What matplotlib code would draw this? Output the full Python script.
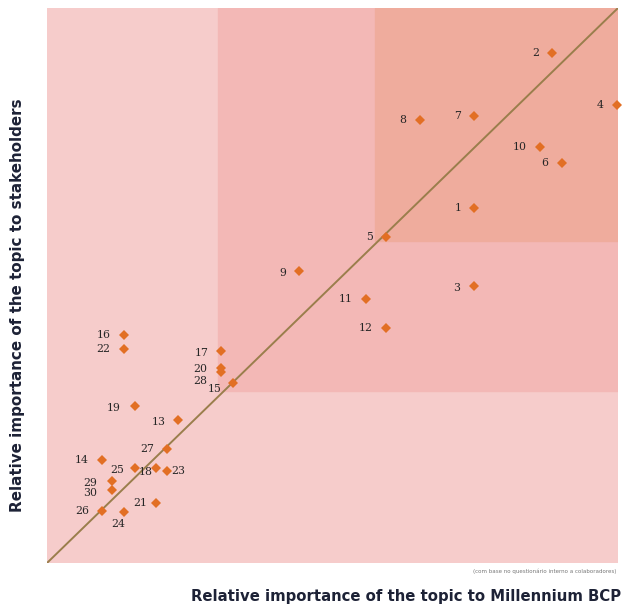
import matplotlib
matplotlib.use("Agg")
from matplotlib import pyplot as plt
from matplotlib.patches import Rectangle

# topic number, importance to Millennium BCP (x), importance to stakeholders (y)
topics = list(range(1, 31))
bcp_importance = [7.48, 8.85, 7.48, 9.98, 5.94, 9.02, 7.48, 6.54, 4.42, 8.63,
                  5.59, 5.94, 2.30, 0.96, 3.26, 1.34, 3.05, 1.91, 1.54, 3.05,
                  1.91, 1.34, 2.10, 1.34, 1.54, 0.96, 2.10, 3.05, 1.13, 1.13]
stakeholder_importance = [6.39, 9.19, 4.99, 8.25, 5.88, 7.21, 8.06, 7.98, 5.26, 7.50,
                          4.76, 4.23, 2.58, 1.86, 3.25, 4.11, 3.82, 1.71, 2.83, 3.51,
                          1.09, 3.85, 1.66, 0.91, 1.71, 0.93, 2.05, 3.45, 1.48, 1.32]

# thresholds of the materiality zones
mid_x, mid_y = 3.0, 3.1
high_x, high_y = 5.74, 5.8

# label offsets in pixels (dx, dy), default is left of the marker
label_offsets = {1: (-16, 0), 3: (-17, -2), 8: (-18, 0), 9: (-17, -2),
                 10: (-20, 0), 11: (-20, 0), 12: (-20, 0), 13: (-20, -2),
                 14: (-20, 0), 15: (-18, -6), 16: (-20, 0), 17: (-19, -2),
                 18: (-10, -4), 19: (-21, -2), 20: (-21, -1), 21: (-16, 0),
                 22: (-20, 0), 23: (11, 0), 24: (-5, -12), 25: (-18, -2),
                 26: (-20, 0), 27: (-20, 0), 28: (-21, -9), 29: (-21, -2),
                 30: (-21, -3)}

fig = plt.figure(figsize=(6.23, 6.08), dpi=100)
ax = fig.add_axes([47/623, 1-563/608, 571/623, 555/608])
ax.set_xlim(0, 10)
ax.set_ylim(0, 10)

ax.add_patch(Rectangle((0, 0), 10, 10, color='#f6cccb', zorder=0))
ax.add_patch(Rectangle((mid_x, mid_y), 10-mid_x, 10-mid_y, color='#f3b8b6', zorder=1))
ax.add_patch(Rectangle((high_x, high_y), 10-high_x, 10-high_y, color='#efac9d', zorder=2))

ax.plot([0, 10], [0, 10], color='#9a7e4c', linewidth=1.4, zorder=3)

ax.plot(bcp_importance, stakeholder_importance, linestyle='None', marker='D',
        markersize=5.5, color='#e26f24', markeredgewidth=0, zorder=4, clip_on=False)

for t, x, y in zip(topics, bcp_importance, stakeholder_importance):
    dx, dy = label_offsets.get(t, (-17, 0))
    ax.annotate(str(t), (x, y), xytext=(dx, dy), textcoords='offset pixels',
                ha='center', va='center', fontsize=7.8, family='DejaVu Serif',
                color='#262626', zorder=5)

for s in ax.spines.values():
    s.set_visible(False)
ax.set_xticks([])
ax.set_yticks([])

fig.text(0.997, 1-596/608, 'Relative importance of the topic to Millennium BCP',
         ha='right', va='center', fontsize=10.7, fontweight='bold', color='#1d2236')
fig.text(18/623, 1-305/608, 'Relative importance of the topic to stakeholders',
         ha='center', va='center', rotation=90, fontsize=10.9, fontweight='bold',
         color='#1d2236')
fig.text(616/623, 1-571/608, '(com base no questionário interno a colaboradores)',
         ha='right', va='center', fontsize=4, color='#777777')

fig.savefig('out.png', dpi=100, facecolor='white')
